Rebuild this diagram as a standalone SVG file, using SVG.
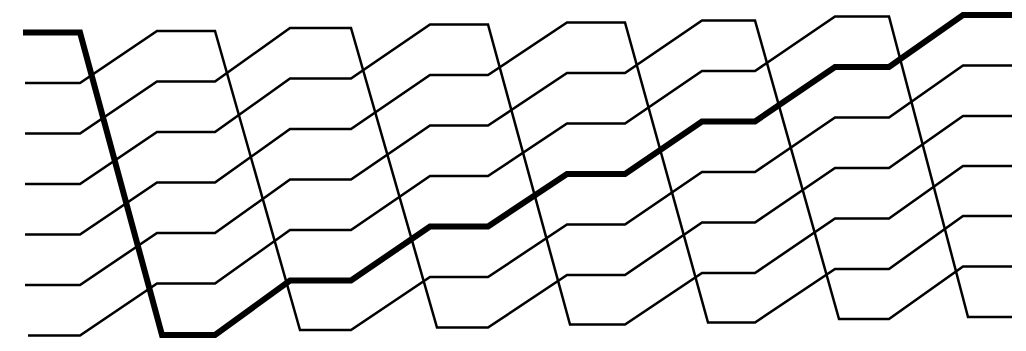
<svg xmlns="http://www.w3.org/2000/svg" width="1026" height="351" viewBox="0 0 1026 351">
<style>
.s{fill:none;stroke:#000;stroke-width:2.5;stroke-linejoin:miter}
.t{fill:none;stroke:#000;stroke-width:6;stroke-linejoin:miter}
</style>
<rect width="1026" height="351" fill="#fff"/>
<g id="strands">
<polyline id="strand1" class="s" points="25,83 80,83 157,31 215,31 300,330 351,330 430,277 488,277 567,224.5 625,224.5 702,172 755,172 835,117.5 889,117.5 963,65.5 1012,65.5"/>
<polyline id="strand2" class="s" points="25,133.5 80,133.5 157,81.5 215,81.5 290,28 351,28 437,327.5 488,327.5 567,275 625,275 702,222.5 755,222.5 835,168 889,168 963,116 1012,116"/>
<polyline id="strand3" class="s" points="25,184 80,184 157,132 215,132 290,78.5 351,78.5 430,24.5 488,24.5 570,324.5 625,324.5 702,273 755,273 835,218.5 889,218.5 963,166 1012,166"/>
<polyline id="strand4" class="s" points="25,234.5 80,234.5 157,182.5 215,182.5 290,129 351,129 430,75 488,75 567,22.5 625,22.5 708,322.5 755,322.5 835,269 889,269 963,216 1012,216"/>
<polyline id="strand5" class="s" points="25,285 80,285 157,233 215,233 290,179.5 351,179.5 430,125.5 488,125.5 567,73 625,73 702,20.5 755,20.5 839,319 889,319 963,266.5 1012,266.5"/>
<polyline id="strand6" class="s" points="28,335.5 80,335.5 157,283.5 215,283.5 290,230 351,230 430,176 488,176 567,123.5 625,123.5 702,71 755,71 835,16.5 889,16.5 968,317 1012,317"/>
<polyline id="strand0" class="t" points="23,32.5 80,32.5 162,335 215,335 290,280.5 351,280.5 430,226.5 488,226.5 567,174 625,174 702,121.5 755,121.5 835,67 889,67 963,15 1012,15"/>
</g>
</svg>
